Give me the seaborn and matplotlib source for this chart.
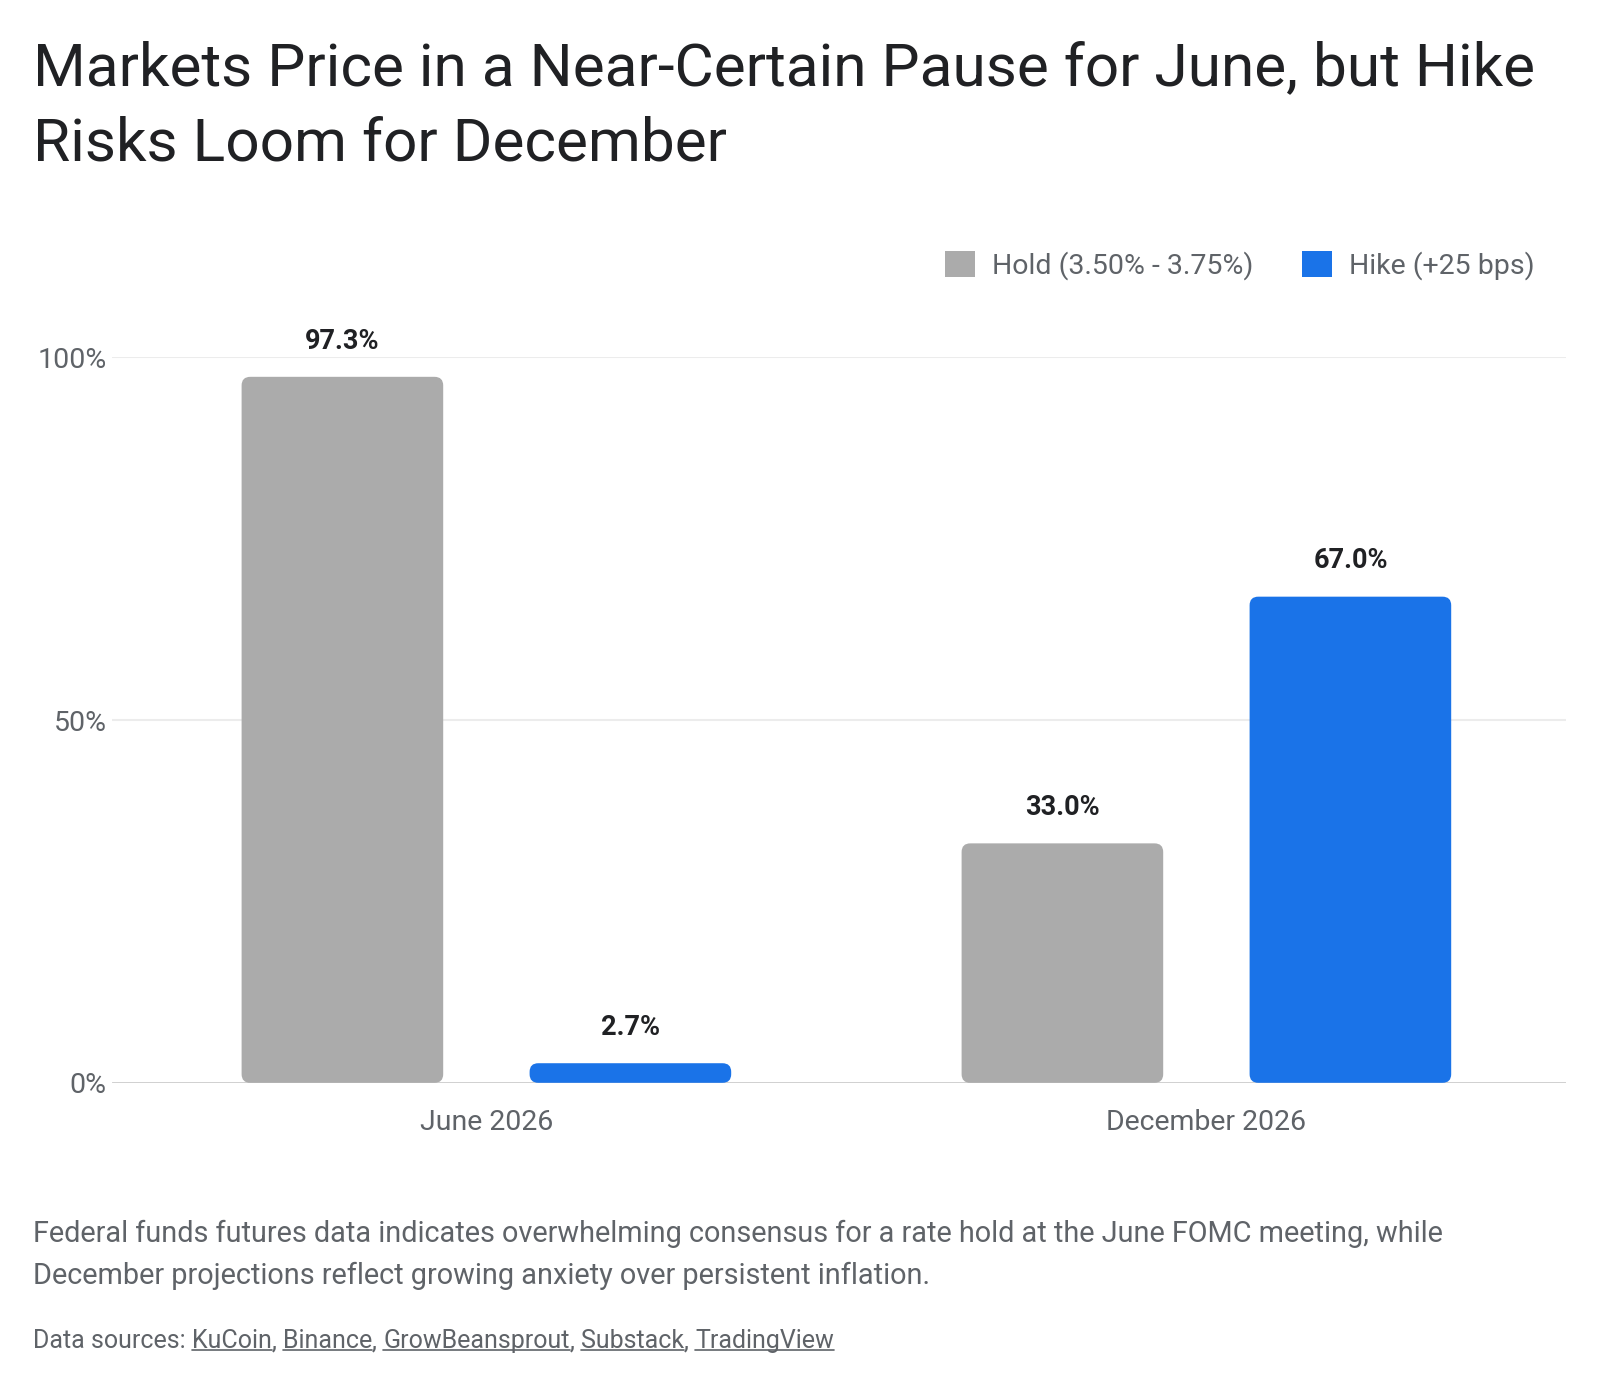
import matplotlib
matplotlib.use("Agg")
import matplotlib.pyplot as plt
from matplotlib.patches import FancyBboxPatch
from matplotlib.lines import Line2D
import seaborn as sns
import pandas as pd

# Dados
reunioes = ['June 2026', 'December 2026']
hold = [97.3, 33.0]
hike = [2.7, 67.0]
series = ['Hold (3.50% - 3.75%)', 'Hike (+25 bps)']
cores = ['#ababab', '#1a73e8']
y_ticks = [0, 50, 100]
y_labels = ['0%', '50%', '100%']

titulo = 'Markets Price in a Near-Certain Pause for June, but Hike\nRisks Loom for December'
legenda_texto = ('Federal funds futures data indicates overwhelming consensus for a rate hold at the June FOMC meeting, while\n'
                 'December projections reflect growing anxiety over persistent inflation.')
fontes = ['KuCoin', 'Binance', 'GrowBeansprout', 'Substack', 'TradingView']

df = pd.DataFrame({
    'meeting': reunioes * 2,
    'prob': hold + hike,
    'scenario': [series[0]] * len(hold) + [series[1]] * len(hike),
})

sns.set_theme(style="white")
plt.rcParams['font.family'] = ['Roboto', 'DejaVu Sans']

fig = plt.figure(figsize=(16, 13.9), dpi=100)
ax = fig.add_axes([0.070, 0.221, 0.909, 0.522])

sns.barplot(data=df, x='meeting', y='prob', hue='scenario', palette=cores,
            width=0.8, gap=0.3, ax=ax, legend=False, saturation=1)

ax.set_xlim(-0.52, 1.50)
ax.set_ylim(0, 100)
ax.set_yticks(y_ticks)
ax.set_yticklabels(y_labels)
ax.set_xlabel('')
ax.set_ylabel('')
for s in ax.spines.values():
    s.set_visible(False)
ax.tick_params(axis='both', length=0, labelsize=20.5, labelcolor='#5f6368')
ax.tick_params(axis='x', pad=19)
ax.tick_params(axis='y', pad=4)
for y in [50, 100]:
    ax.axhline(y, color='#ececec', lw=1.5, zorder=0)
ax.axhline(0, color='#cccccc', lw=2, zorder=1)

# barras com cantos arredondados
bb = ax.get_window_extent()
px_x = bb.width / (ax.get_xlim()[1] - ax.get_xlim()[0])
px_y = bb.height / (ax.get_ylim()[1] - ax.get_ylim()[0])
aspect = px_x / px_y
for cont in ax.containers:
    for p in cont.patches:
        p.set_visible(False)
        r = FancyBboxPatch((p.get_x(), p.get_y()), p.get_width(), p.get_height(),
                           boxstyle="round,pad=0,rounding_size=0.012",
                           mutation_aspect=aspect, facecolor=p.get_facecolor(),
                           edgecolor='none', zorder=2)
        ax.add_patch(r)
    ax.bar_label(cont, labels=[f'{v:.1f}%' for v in cont.datavalues], padding=16,
                 fontsize=19.5, fontweight='bold', color='#202124')

# legenda
handles = [FancyBboxPatch((0, 0), 1, 1, boxstyle="round,pad=0,rounding_size=0.1",
                          facecolor=c, edgecolor='none') for c in cores]
fig.legend(handles, series, loc='center right', bbox_to_anchor=(0.975, 0.809),
           ncol=2, frameon=False, fontsize=20.5, labelcolor='#5f6368',
           handlelength=1.05, handleheight=1.05, handletextpad=0.6, columnspacing=1.7)

fig.text(0.0206, 0.971, titulo, fontsize=43.5, color='#202124', va='top', ha='left',
         linespacing=1.40)
fig.text(0.0206, 0.097, legenda_texto, fontsize=20.8, color='#5f6368', va='center',
         ha='left', linespacing=1.62)

# linha de fontes com sublinhado
tam = 18
t = fig.text(0.0206, 0.035, 'Data sources: ', fontsize=tam, color='#5f6368', va='center')
pecas = []
for i, nome in enumerate(fontes):
    t = ax.annotate(nome, xy=(1, 0), xycoords=t, va='bottom', ha='left',
                    fontsize=tam, color='#5f6368', annotation_clip=False)
    pecas.append(t)
    if i < len(fontes) - 1:
        t = ax.annotate(', ', xy=(1, 0), xycoords=t, va='bottom', ha='left',
                        fontsize=tam, color='#5f6368', annotation_clip=False)

fig.canvas.draw()
for p in pecas:
    e = p.get_window_extent()
    y = e.y0 + 3
    fig.add_artist(Line2D([e.x0 / fig.bbox.width, e.x1 / fig.bbox.width],
                          [y / fig.bbox.height, y / fig.bbox.height],
                          color='#5f6368', lw=1.2))

fig.savefig('out.png', dpi=100, facecolor='white')
